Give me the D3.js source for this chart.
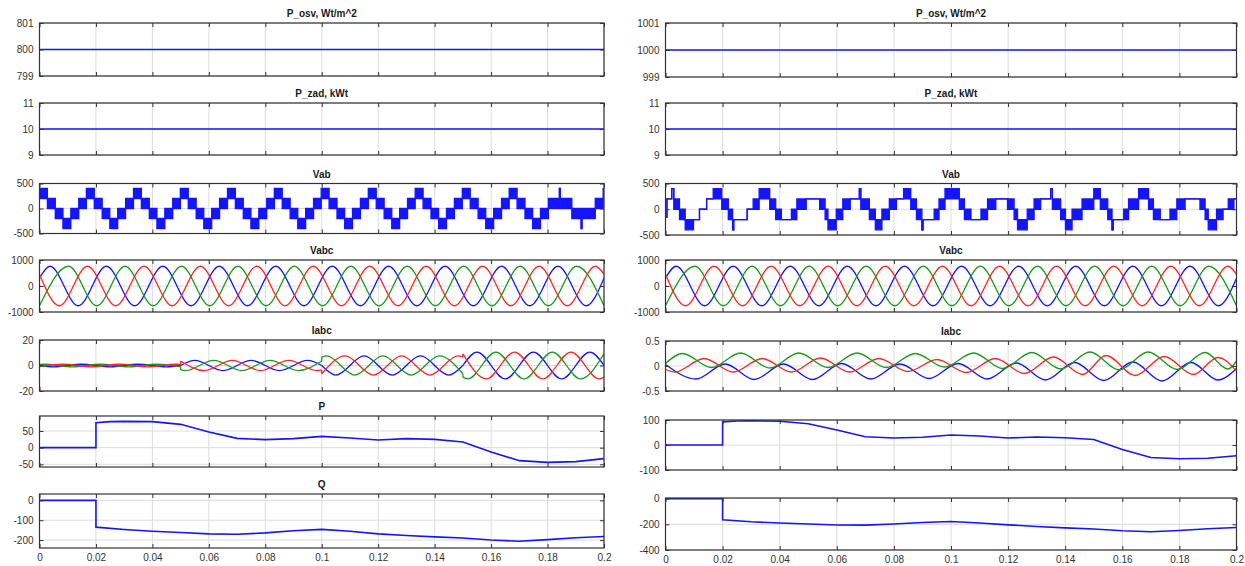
<!DOCTYPE html>
<html lang="en">
<head>
<meta charset="UTF-8" />
<title>Scope traces: P_osv, P_zad, Vab, Vabc, Iabc, P, Q</title>
<style>
  body { margin: 0; background: #fff; }
  svg { display: block; background: #fff; }
  .tick text { font-family: "Liberation Sans", Arial, sans-serif; font-size: 10px; fill: #333; }
  .ttl { font-family: "Liberation Sans", Arial, sans-serif; font-size: 10px; font-weight: bold; fill: #1a1a1a; }
</style>
</head>
<body>
<svg id="scope" width="1245" height="566"></svg>

<script src="https://d3js.org/d3.v7.min.js"></script>
<script>
// ---- data ----
const xTicks = [0, 0.02, 0.04, 0.06, 0.08, 0.1, 0.12, 0.14, 0.16, 0.18, 0.2];
const xTickLabels = ["0", "0.02", "0.04", "0.06", "0.08", "0.1", "0.12", "0.14", "0.16", "0.18", "0.2"];

const titlesLeft = ["P_osv, Wt/m^2", "P_zad, kWt", "Vab", "Vabc", "Iabc", "P", "Q"];
const titlesRight = ["P_osv, Wt/m^2", "P_zad, kWt", "Vab", "Vabc", "Iabc", "", ""];

const yTicksLeft = [[799, 800, 801], [9, 10, 11], [-500, 0, 500], [-1000, 0, 1000], [-20, 0, 20], [-50, 0, 50], [-200, -100, 0]];
const yTicksRight = [[999, 1000, 1001], [9, 10, 11], [-500, 0, 500], [-1000, 0, 1000], [-0.5, 0, 0.5], [-100, 0, 100], [-400, -200, 0]];
const yDomainsLeft = [[799, 801], [9, 11], [-500, 500], [-1000, 1000], [-20, 20], [-58, 95], [-240, 32]];
const yDomainsRight = [[999, 1001], [9, 11], [-500, 500], [-1000, 1000], [-0.5, 0.5], [-100, 100], [-400, 5]];

const pOsvLeft = [[0, 800], [0.2, 800]];
const pOsvRight = [[0, 1000], [0.2, 1000]];
const pZad = [[0, 10], [0.2, 10]];

// Vab: [t, low level, high level] held until next t (low != high -> dense PWM band)
const vabLeft = [
  [0, 200, 400], [0.0028, 0, 200], [0.0056, -200, 0], [0.0083, -400, -200], [0.0111, -200, 0], [0.0139, 0, 200],
  [0.0166, 200, 400], [0.0194, 0, 200], [0.0222, -200, 0], [0.0249, -400, -200], [0.0277, -200, 0], [0.0305, 0, 200],
  [0.0333, 200, 400], [0.0361, 0, 200], [0.0389, -200, 0], [0.0416, -400, -200], [0.0444, -200, 0], [0.0472, 0, 200],
  [0.0499, 200, 400], [0.0527, 0, 200], [0.0555, -200, 0], [0.0582, -400, -200], [0.0610, -200, 0], [0.0638, 0, 200],
  [0.0666, 200, 400], [0.0694, 0, 200], [0.0722, -200, 0], [0.0749, -400, -200], [0.0777, -200, 0], [0.0805, 0, 200],
  [0.0832, 200, 400], [0.0860, 0, 200], [0.0888, -200, 0], [0.0915, -400, -200], [0.0943, -200, 0], [0.0971, 0, 200],
  [0.0998, 200, 400], [0.1026, 0, 200], [0.1054, -200, 0], [0.1081, -400, -200], [0.1109, -200, 0], [0.1137, 0, 200],
  [0.1165, 200, 400], [0.1193, 0, 200], [0.1221, -200, 0], [0.1248, -400, -200], [0.1276, -200, 0], [0.1304, 0, 200],
  [0.1331, 200, 400], [0.1359, 0, 200], [0.1387, -200, 0], [0.1414, -400, -200], [0.1442, -200, 0], [0.1470, 0, 200],
  [0.1498, 200, 400], [0.1526, 0, 200], [0.1554, -200, 0], [0.1581, -400, -200], [0.1609, -200, 0], [0.1637, 0, 200],
  [0.1664, 200, 400], [0.1692, 0, 200], [0.1720, -200, 0], [0.1747, -400, -200], [0.1775, -200, 0], [0.1803, 0, 200],
  [0.1842, 400, 400], [0.1845, 0, 200], [0.1886, -200, 0], [0.1919, -400, -400], [0.1922, -200, 0], [0.1969, 0, 200],
  [0.1997, 200, 400], [0.2, 200, 400]
];
const vabRight = [
  [0, -150, -150], [0.0005, 200, 200], [0.0022, 400, 400], [0.0029, 0, 200], [0.0049, -200, 0], [0.0069, -400, -200],
  [0.0098, -200, -200], [0.0119, 0, 0], [0.0144, 200, 200], [0.0167, 200, 400],
  [0.0197, 0, 200], [0.0220, -200, 0], [0.0235, -400, -400], [0.0239, -200, -200], [0.0286, 0, 0], [0.0307, 0, 200],
  [0.0328, 200, 400], [0.0365, 0, 200],
  [0.0386, -200, 0], [0.0406, -200, -200], [0.0441, -200, 0], [0.0460, 0, 200], [0.0493, 200, 200], [0.0540, 0, 200],
  [0.0559, -200, 0], [0.0569, -400, -200], [0.0598, -200, 0], [0.0621, 0, 200], [0.0647, 200, 200], [0.0679, 400, 400],
  [0.0684, 0, 200], [0.0714, -200, 0], [0.0735, -400, -200], [0.0758, -200, 0], [0.0784, 0, 200], [0.0809, 200, 200],
  [0.0834, 200, 400],
  [0.0859, 0, 200], [0.0879, -200, 0], [0.0898, -400, -400], [0.0902, -200, -200], [0.0941, -200, 0], [0.0958, 0, 200],
  [0.0979, 200, 400],
  [0.1029, 0, 200], [0.1047, -200, 0], [0.1070, -200, -200], [0.1105, -200, 0], [0.1128, 0, 200], [0.1157, 200, 200],
  [0.1198, 0, 200], [0.1221, -200, 0], [0.1233, -400, -200], [0.1267, -200, 0], [0.1291, 0, 200], [0.1314, 200, 200],
  [0.1349, 400, 400],
  [0.1355, 0, 200], [0.1384, -200, 0], [0.1401, -400, -200], [0.1424, -200, 0], [0.1459, 0, 200], [0.1500, 200, 400],
  [0.1523, 0, 200], [0.1549, -200, 0], [0.1564, -400, -400], [0.1568, -200, -200], [0.1605, -200, 0], [0.1622, 0, 200],
  [0.1657, 200, 400], [0.1692, 0, 200], [0.1709, -200, 0], [0.1733, -200, -200], [0.1767, -200, 0], [0.1791, 0, 200],
  [0.1820, 200, 200], [0.1872, 0, 200], [0.1890, -200, 0], [0.1901, -400, -200], [0.1930, -200, 0], [0.1953, 0, 0],
  [0.1971, 0, 200], [0.1991, 200, 200], [0.2, 200, 200]
];

// Vabc: start, peaks/troughs, end (same on both scopes)
const vabcBlue = [[0, 302], [0.0037, 760], [0.0137, -760], [0.0237, 760], [0.0337, -760], [0.0437, 760], [0.0537, -760],
  [0.0637, 760], [0.0737, -760], [0.0837, 760], [0.0937, -760], [0.1037, 760], [0.1137, -760], [0.1237, 760],
  [0.1337, -760], [0.1437, 760], [0.1537, -760], [0.1637, 760], [0.1737, -760], [0.1837, 760], [0.1937, -760], [0.2, 302]];
const vabcGreen = [[0, -755], [0.0103, 760], [0.0203, -760], [0.0303, 760], [0.0403, -760], [0.0503, 760], [0.0603, -760],
  [0.0703, 760], [0.0803, -760], [0.0903, 760], [0.1003, -760], [0.1103, 760], [0.1203, -760], [0.1303, 760],
  [0.1403, -760], [0.1503, 760], [0.1603, -760], [0.1703, 760], [0.1803, -760], [0.1903, 760], [0.2, -755]];
const vabcRed = [[0, 453], [0.0070, -760], [0.0170, 760], [0.0270, -760], [0.0370, 760], [0.0470, -760], [0.0570, 760],
  [0.0670, -760], [0.0770, 760], [0.0870, -760], [0.0970, 760], [0.1070, -760], [0.1170, 760], [0.1270, -760],
  [0.1370, 760], [0.1470, -760], [0.1570, 760], [0.1670, -760], [0.1770, 760], [0.1870, -760], [0.1970, 760], [0.2, 453]];

// Iabc left: four stages of current, one piece per stage
const iabcLeftBlue = [
  [[0, 0], [0.005, -1], [0.015, 1], [0.025, -1], [0.035, 1], [0.045, -1], [0.05, 0]],
  [[0.05, 0], [0.055, 4], [0.065, -4], [0.075, 4], [0.085, -4], [0.095, 4], [0.1, 0]],
  [[0.1, 0], [0.105, -7.5], [0.115, 7.5], [0.125, -7.5], [0.135, 7.5], [0.145, -7.5], [0.15, 0]],
  [[0.15, 0], [0.155, 10.5], [0.165, -10.5], [0.175, 10.5], [0.185, -10.5], [0.195, 10.5], [0.2, 0]]
];
const iabcLeftGreen = [
  [[0, 0.87], [0.0017, 1], [0.0117, -1], [0.0217, 1], [0.0317, -1], [0.0417, 1], [0.05, -0.87]],
  [[0.05, -3.5], [0.0517, -4], [0.0617, 4], [0.0717, -4], [0.0817, 4], [0.0917, -4], [0.1, 3.5]],
  [[0.1, 6.5], [0.1017, 7.5], [0.1117, -7.5], [0.1217, 7.5], [0.1317, -7.5], [0.1417, 7.5], [0.15, -6.5]],
  [[0.15, -9.1], [0.1517, -10.5], [0.1617, 10.5], [0.1717, -10.5], [0.1817, 10.5], [0.1917, -10.5], [0.2, 9.1]]
];
const iabcLeftRed = [
  [[0, -0.87], [0.0083, 1], [0.0183, -1], [0.0283, 1], [0.0383, -1], [0.0483, 1], [0.05, 0.87]],
  [[0.05, 3.5], [0.0583, -4], [0.0683, 4], [0.0783, -4], [0.0883, 4], [0.0983, -4], [0.1, -3.5]],
  [[0.1, -6.5], [0.1083, 7.5], [0.1183, -7.5], [0.1283, 7.5], [0.1383, -7.5], [0.1483, 7.5], [0.15, 6.5]],
  [[0.15, 9.1], [0.1583, -10.5], [0.1683, 10.5], [0.1783, -10.5], [0.1883, 10.5], [0.1983, -10.5], [0.2, -9.1]]
];

// Iabc right: small currents with offsets
const iabcRightGreen = [[[0, 0.05], [0.0059, 0.25], [0.0161, -0.03], [0.0263, 0.26], [0.0365, -0.04], [0.0467, 0.26],
  [0.0569, -0.03], [0.0671, 0.26], [0.0773, -0.03], [0.0875, 0.25], [0.0977, -0.02], [0.1079, 0.26], [0.1181, -0.05],
  [0.1283, 0.27], [0.1385, -0.06], [0.1487, 0.28], [0.1589, -0.08], [0.1691, 0.28], [0.1793, -0.07], [0.1890, 0.27],
  [0.1970, -0.06], [0.2, 0.1]]];
const iabcRightBlue = [[[0, 0.03], [0.0107, -0.26], [0.0209, 0.04], [0.0311, -0.27], [0.0413, 0.04], [0.0515, -0.27],
  [0.0617, 0.05], [0.0719, -0.26], [0.0821, 0.04], [0.0923, -0.25], [0.1025, 0.05], [0.1127, -0.26], [0.1229, 0.06],
  [0.1331, -0.28], [0.1433, 0.07], [0.1535, -0.29], [0.1637, 0.08], [0.1739, -0.3], [0.1841, 0.07], [0.1935, -0.28],
  [0.2, -0.05]]];
const iabcRightRed = [[[0, -0.07], [0.0033, -0.12], [0.0135, 0.15], [0.0237, -0.12], [0.0339, 0.15], [0.0441, -0.12],
  [0.0543, 0.16], [0.0645, -0.12], [0.0747, 0.15], [0.0849, -0.11], [0.0951, 0.13], [0.1053, -0.13], [0.1155, 0.15],
  [0.1257, -0.15], [0.1359, 0.18], [0.1461, -0.17], [0.1543, 0.21], [0.1645, -0.19], [0.1747, 0.19], [0.1849, -0.17],
  [0.1935, 0.17], [0.2, -0.1]]];

const pLeft = [[0, 0], [0.02, 0], [0.02, 75], [0.025, 78], [0.03, 79], [0.04, 78], [0.05, 70], [0.06, 47], [0.07, 28],
  [0.08, 24], [0.09, 27], [0.1, 34], [0.11, 29], [0.12, 23], [0.13, 27], [0.14, 25], [0.15, 17], [0.16, -13],
  [0.17, -39], [0.18, -44], [0.19, -42], [0.2, -33]];
const qLeft = [[0, 0], [0.02, 0], [0.02, -135], [0.03, -147], [0.04, -156], [0.05, -162], [0.06, -169], [0.07, -171],
  [0.08, -164], [0.09, -153], [0.1, -146], [0.11, -156], [0.12, -169], [0.13, -177], [0.14, -184], [0.15, -190],
  [0.16, -200], [0.17, -206], [0.18, -198], [0.19, -188], [0.2, -182]];
const pRight = [[0, 0], [0.02, 0], [0.02, 92], [0.025, 96], [0.03, 97], [0.04, 95], [0.05, 85], [0.06, 60], [0.07, 33],
  [0.08, 28], [0.09, 31], [0.1, 40], [0.11, 36], [0.12, 28], [0.13, 32], [0.14, 29], [0.15, 22], [0.16, -18],
  [0.17, -50], [0.18, -55], [0.19, -53], [0.2, -43]];
const qRight = [[0, 0], [0.02, 0], [0.02, -165], [0.03, -180], [0.04, -190], [0.05, -197], [0.06, -205], [0.07, -206],
  [0.08, -198], [0.09, -186], [0.1, -178], [0.11, -190], [0.12, -204], [0.13, -217], [0.14, -228], [0.15, -236],
  [0.16, -250], [0.17, -258], [0.18, -248], [0.19, -235], [0.2, -225]];

// ---- drawing ----
const svg = d3.select("#scope");
const BLUE = "#1414ff", RED = "#ff2626", GREEN = "#1c991c";

const columns = [
  { name: "L", x0: 39.5, x1: 604, tops: [23, 103, 183.5, 260, 340, 416, 494], bottoms: [76, 155, 233.5, 312, 391, 467, 548],
    titles: titlesLeft, ticks: yTicksLeft, domains: yDomainsLeft },
  { name: "R", x0: 665.5, x1: 1236.5, tops: [23, 103, 183.5, 260, 341, 420, 498], bottoms: [77, 155, 235, 312, 391, 470, 550],
    titles: titlesRight, ticks: yTicksRight, domains: yDomainsRight }
];

// what goes into each row, per column
const series = {
  L: [
    (g, x, y) => drawLine(g, x, y, pOsvLeft, BLUE, 1.6),
    (g, x, y) => drawLine(g, x, y, pZad, BLUE, 1.6),
    (g, x, y) => drawSteps(g, x, y, vabLeft, BLUE),
    (g, x, y) => { drawPieces(g, x, y, [vabcBlue], BLUE); drawPieces(g, x, y, [vabcGreen], GREEN); drawPieces(g, x, y, [vabcRed], RED); },
    (g, x, y) => { drawPieces(g, x, y, iabcLeftBlue, BLUE); drawPieces(g, x, y, iabcLeftGreen, GREEN); drawPieces(g, x, y, iabcLeftRed, RED); },
    (g, x, y) => drawLine(g, x, y, pLeft, BLUE, 1.6),
    (g, x, y) => drawLine(g, x, y, qLeft, BLUE, 1.6)
  ],
  R: [
    (g, x, y) => drawLine(g, x, y, pOsvRight, BLUE, 1.6),
    (g, x, y) => drawLine(g, x, y, pZad, BLUE, 1.6),
    (g, x, y) => drawSteps(g, x, y, vabRight, BLUE),
    (g, x, y) => { drawPieces(g, x, y, [vabcBlue], BLUE); drawPieces(g, x, y, [vabcGreen], GREEN); drawPieces(g, x, y, [vabcRed], RED); },
    (g, x, y) => { drawPieces(g, x, y, iabcRightBlue, BLUE); drawPieces(g, x, y, iabcRightRed, RED); drawPieces(g, x, y, iabcRightGreen, GREEN); },
    (g, x, y) => drawLine(g, x, y, pRight, BLUE, 1.6),
    (g, x, y) => drawLine(g, x, y, qRight, BLUE, 1.6)
  ]
};

function drawLine(g, x, y, pts, color, w) {
  g.append("path").datum(pts)
    .attr("d", d3.line().x(d => x(d[0])).y(d => y(d[1])))
    .attr("fill", "none").attr("stroke", color).attr("stroke-width", w);
}

// smooth waveform through the read extrema; stages joined with a vertical jump
function drawPieces(g, x, y, pieces, color) {
  const smooth = d3.line().x(d => x(d[0])).y(d => y(d[1])).curve(d3.curveMonotoneX);
  const straight = d3.line().x(d => x(d[0])).y(d => y(d[1]));
  pieces.forEach((pc, i) => {
    g.append("path").datum(pc).attr("d", smooth)
      .attr("fill", "none").attr("stroke", color).attr("stroke-width", 1.3);
    if (i > 0) {
      const prev = pieces[i - 1];
      g.append("path").datum([prev[prev.length - 1], pc[0]]).attr("d", straight)
        .attr("fill", "none").attr("stroke", color).attr("stroke-width", 1.3);
    }
  });
}

function drawSteps(g, x, y, segs, color) {
  g.append("path").datum(segs)
    .attr("d", d3.area().x(d => x(d[0])).y0(d => y(d[1])).y1(d => y(d[2])).curve(d3.curveStepAfter))
    .attr("fill", color);
  [1, 2].forEach(k => {
    g.append("path").datum(segs)
      .attr("d", d3.line().x(d => x(d[0])).y(d => y(d[k])).curve(d3.curveStepAfter))
      .attr("fill", "none").attr("stroke", color).attr("stroke-width", 1.3);
  });
}

columns.forEach(col => {
  const x = d3.scaleLinear().domain([0, 0.2]).range([col.x0, col.x1]);
  col.tops.forEach((top, row) => {
    const bottom = col.bottoms[row];
    const y = d3.scaleLinear().domain(col.domains[row]).range([bottom, top]);
    const yt = col.ticks[row];
    const last = row === col.tops.length - 1;
    const g = svg.append("g");

    // grid
    g.selectAll("line.vg").data(xTicks).join("line").attr("class", "vg")
      .attr("x1", d => x(d)).attr("x2", d => x(d)).attr("y1", top).attr("y2", bottom)
      .attr("stroke", "#dcdcdc").attr("stroke-width", 1);
    g.selectAll("line.hg").data(yt).join("line").attr("class", "hg")
      .attr("x1", col.x0).attr("x2", col.x1).attr("y1", d => y(d)).attr("y2", d => y(d))
      .attr("stroke", "#dcdcdc").attr("stroke-width", 1);

    // traces, clipped to the axes box
    const clipId = `clip-${col.name}-${row}`;
    svg.append("clipPath").attr("id", clipId).append("rect")
      .attr("x", col.x0).attr("y", top).attr("width", col.x1 - col.x0).attr("height", bottom - top);
    const plot = g.append("g").attr("clip-path", `url(#${clipId})`);
    series[col.name][row](plot, x, y);

    // box
    g.append("rect").attr("x", col.x0).attr("y", top)
      .attr("width", col.x1 - col.x0).attr("height", bottom - top)
      .attr("fill", "none").attr("stroke", "#333").attr("stroke-width", 1.2);

    // ticks (inward, MATLAB style)
    g.append("g").attr("color", "#333").attr("transform", `translate(0,${bottom})`)
      .call(d3.axisBottom(x).tickValues(xTicks).tickSize(-4).tickPadding(6)
        .tickFormat((d, i) => last ? xTickLabels[i] : ""))
      .call(a => a.select(".domain").remove());
    g.append("g").attr("color", "#333").attr("transform", `translate(0,${top})`)
      .call(d3.axisTop(x).tickValues(xTicks).tickSize(-4).tickFormat(""))
      .call(a => a.select(".domain").remove());
    g.append("g").attr("color", "#333").attr("transform", `translate(${col.x0},0)`)
      .call(d3.axisLeft(y).tickValues(yt).tickSize(-4).tickPadding(6).tickFormat(d => String(d)))
      .call(a => a.select(".domain").remove());
    g.append("g").attr("color", "#333").attr("transform", `translate(${col.x1},0)`)
      .call(d3.axisRight(y).tickValues(yt).tickSize(-4).tickFormat(""))
      .call(a => a.select(".domain").remove());

    if (col.titles[row]) {
      g.append("text").attr("class", "ttl")
        .attr("x", (col.x0 + col.x1) / 2).attr("y", top - 6)
        .attr("text-anchor", "middle")
        .text(col.titles[row]);
    }
  });
});
</script>
</body>
</html>
